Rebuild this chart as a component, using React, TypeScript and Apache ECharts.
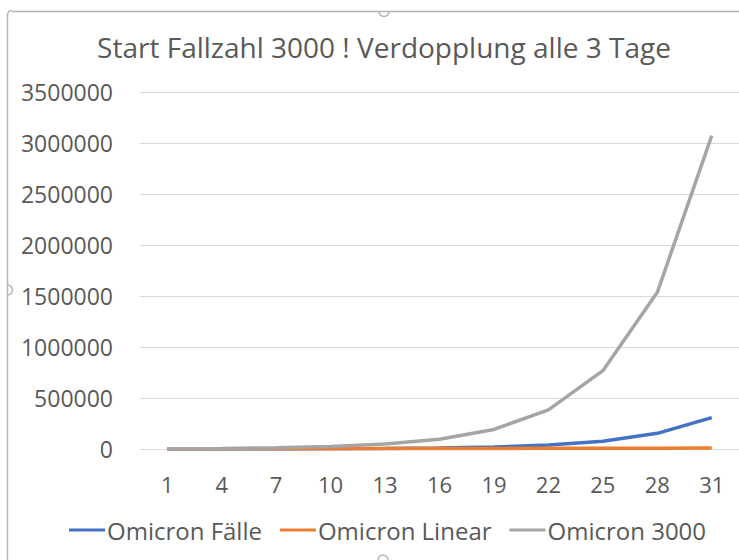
import React, { useEffect, useRef } from "react";
import * as echarts from "echarts";

const days = ["1", "4", "7", "10", "13", "16", "19", "22", "25", "28", "31"];
const omicronFaelle = [300, 600, 1200, 2400, 4800, 9600, 19200, 38400, 76800, 153600, 307200];
const omicronLinear = [300, 1200, 2100, 3000, 3900, 4800, 5700, 6600, 7500, 8400, 9300];
const omicron3000 = [3000, 6000, 12000, 24000, 48000, 96000, 192000, 384000, 768000, 1536000, 3072000];
const titleText = "Start Fallzahl 3000 ! Verdopplung alle 3 Tage";

const FONT = "'Open Sans', 'Noto Sans', sans-serif";
const TXT = "#595959";

export default function App() {
  const ref = useRef<HTMLDivElement>(null);
  useEffect(() => {
    document.body.style.margin = "0";
    const chart = echarts.init(ref.current!, null, { renderer: "svg" });
    const frame = "#b4b4b4";
    chart.setOption({
      animation: false,
      backgroundColor: "#ffffff",
      textStyle: { fontFamily: FONT },
      grid: { left: 140, top: 92, width: 603, height: 357, containLabel: false },
      xAxis: {
        type: "category",
        data: days,
        boundaryGap: true,
        axisLine: { show: true, lineStyle: { color: "#d9d9d9", width: 1 } },
        axisTick: { show: false },
        axisLabel: { color: TXT, fontSize: 22, fontFamily: FONT, margin: 24, interval: 0 },
        splitLine: { show: false },
      },
      yAxis: {
        type: "value",
        min: 0,
        max: 3500000,
        interval: 500000,
        axisLine: { show: false },
        axisTick: { show: false },
        axisLabel: {
          color: TXT,
          fontSize: 23,
          fontFamily: FONT,
          margin: 27,
          formatter: (v: number) => String(v),
        },
        splitLine: { show: true, lineStyle: { color: "#d9d9d9", width: 1 } },
      },
      legend: {
        show: true,
        left: 64,
        top: 513,
        itemWidth: 36,
        itemHeight: 3,
        itemGap: 18,
        icon: "rect",
        textStyle: { color: TXT, fontSize: 24, fontFamily: FONT, padding: [0, 0, 0, -3] },
        data: ["Omicron Fälle", "Omicron Linear", "Omicron 3000"],
      },
      series: [
        {
          name: "Omicron Fälle",
          type: "line",
          data: omicronFaelle,
          showSymbol: false,
          symbol: "none",
          lineStyle: { color: "#4472C4", width: 3.5 },
          itemStyle: { color: "#4472C4" },
        },
        {
          name: "Omicron Linear",
          type: "line",
          data: omicronLinear,
          showSymbol: false,
          symbol: "none",
          lineStyle: { color: "#ED7D31", width: 3.5 },
          itemStyle: { color: "#ED7D31" },
        },
        {
          name: "Omicron 3000",
          type: "line",
          data: omicron3000,
          showSymbol: false,
          symbol: "none",
          lineStyle: { color: "#A5A5A5", width: 3.5 },
          itemStyle: { color: "#A5A5A5" },
        },
      ],
      graphic: [
        {
          type: "text",
          x: 384,
          y: 47,
          style: {
            text: titleText,
            fill: TXT,
            font: `28px ${FONT}`,
            textAlign: "center",
            textVerticalAlign: "middle",
          },
        },
        { type: "line", shape: { x1: 7.5, y1: 14, x2: 7.5, y2: 560 }, style: { stroke: frame, lineWidth: 1.5 } },
        { type: "line", shape: { x1: 12, y1: 11.5, x2: 739, y2: 11.5 }, style: { stroke: frame, lineWidth: 1.5 } },
        { type: "arc", shape: { cx: 12, cy: 15, r: 4.5, startAngle: Math.PI, endAngle: Math.PI * 1.5 }, style: { stroke: frame, lineWidth: 1.5, fill: "none" } },
        { type: "arc", shape: { cx: 384, cy: 11.5, r: 5, startAngle: 0, endAngle: Math.PI }, style: { stroke: frame, lineWidth: 1.5, fill: "none" } },
        { type: "arc", shape: { cx: 7.5, cy: 290, r: 5, startAngle: -Math.PI / 2, endAngle: Math.PI / 2 }, style: { stroke: frame, lineWidth: 1.5, fill: "none" } },
        { type: "arc", shape: { cx: 383, cy: 560, r: 5, startAngle: Math.PI, endAngle: Math.PI * 2 }, style: { stroke: frame, lineWidth: 1.5, fill: "none" } },
      ],
    });
    return () => chart.dispose();
  }, []);
  return <div ref={ref} style={{ width: 739, height: 560 }} />;
}
